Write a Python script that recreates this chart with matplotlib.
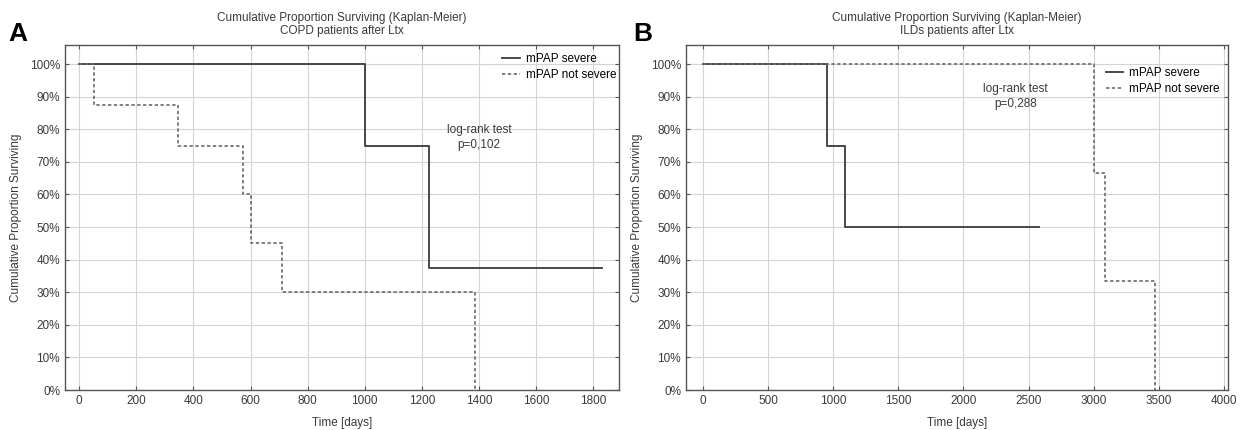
import matplotlib.pyplot as plt
from matplotlib.ticker import PercentFormatter

# Panel A: COPD patients
a_severe_t = [0, 1000, 1225, 1830]
a_severe_s = [1.0, 0.75, 0.375, 0.375]
a_notsev_t = [0, 50, 345, 575, 600, 710, 1385, 1385]
a_notsev_s = [1.0, 0.875, 0.75, 0.60, 0.45, 0.30, 0.0, 0.0]

# Panel B: ILD patients
b_severe_t = [0, 950, 1090, 2580]
b_severe_s = [1.0, 0.75, 0.50, 0.50]
b_notsev_t = [0, 3000, 3085, 3470, 3470]
b_notsev_s = [1.0, 0.667, 0.333, 0.0, 0.0]

plt.rcParams['font.family'] = ['Liberation Sans', 'DejaVu Sans']

fig = plt.figure(figsize=(12.42, 4.30), dpi=100)
axA = fig.add_axes([0.0523, 0.093, 0.4460, 0.802])
axB = fig.add_axes([0.5523, 0.093, 0.4364, 0.802])

line_col = '#3a3a3a'
dot_col = '#6a6a6a'
txt_col = '#3a3a3a'


def style(ax, xticks, xlim, subtitle):
    ax.set_xlim(xlim)
    ax.set_ylim(0, 1.058)
    ax.set_xticks(xticks)
    ax.set_yticks([i / 10 for i in range(11)])
    ax.yaxis.set_major_formatter(PercentFormatter(1.0, decimals=0))
    ax.grid(True, color='#d4d4d4', linewidth=0.8)
    ax.set_axisbelow(True)
    ax.tick_params(labelsize=8.5, labelcolor=txt_col, color='#555555',
                   top=True, right=True, direction='in', length=3)
    for s in ax.spines.values():
        s.set_color('#555555')
        s.set_linewidth(1.0)
    ax.set_xlabel('Time [days]', fontsize=8.5, color=txt_col, labelpad=7)
    ax.set_ylabel('Cumulative Proportion Surviving', fontsize=8.5, color=txt_col, labelpad=6)
    ax.set_title('Cumulative Proportion Surviving (Kaplan-Meier)\n' + subtitle,
                 fontsize=8.5, color=txt_col, pad=8, linespacing=1.1)


axA.step(a_severe_t, a_severe_s, where='post', color=line_col, lw=1.3, label='mPAP severe')
axA.step(a_notsev_t, a_notsev_s, where='post', color=dot_col, lw=1.2, ls=(0, (2, 1.5)),
         label='mPAP not severe')
style(axA, range(0, 1801, 200), (-50, 1890), 'COPD patients after Ltx')
axA.text(1400, 0.775, 'log-rank test\np=0,102', ha='center', va='center', fontsize=8.5,
         color=txt_col, linespacing=1.3)
axA.legend(loc='upper right', bbox_to_anchor=(1.01, 1.0), frameon=False, fontsize=8.5,
           handlelength=1.5, handletextpad=0.5, labelspacing=0.3, borderaxespad=0.3)

axB.step(b_severe_t, b_severe_s, where='post', color=line_col, lw=1.3, label='mPAP severe')
axB.step(b_notsev_t, b_notsev_s, where='post', color=dot_col, lw=1.2, ls=(0, (2, 1.5)),
         label='mPAP not severe')
style(axB, range(0, 4001, 500), (-130, 4030), 'ILDs patients after Ltx')
axB.text(2400, 0.90, 'log-rank test\np=0,288', ha='center', va='center', fontsize=8.5,
         color=txt_col, linespacing=1.3)
axB.legend(loc='upper right', bbox_to_anchor=(1.0, 0.96), frameon=False, fontsize=8.5,
           handlelength=1.5, handletextpad=0.5, labelspacing=0.3, borderaxespad=0.3)

fig.text(0.007, 0.905, 'A', fontsize=19, fontweight='bold')
fig.text(0.510, 0.905, 'B', fontsize=19, fontweight='bold')

fig.savefig('out.png', dpi=100, facecolor='white')
